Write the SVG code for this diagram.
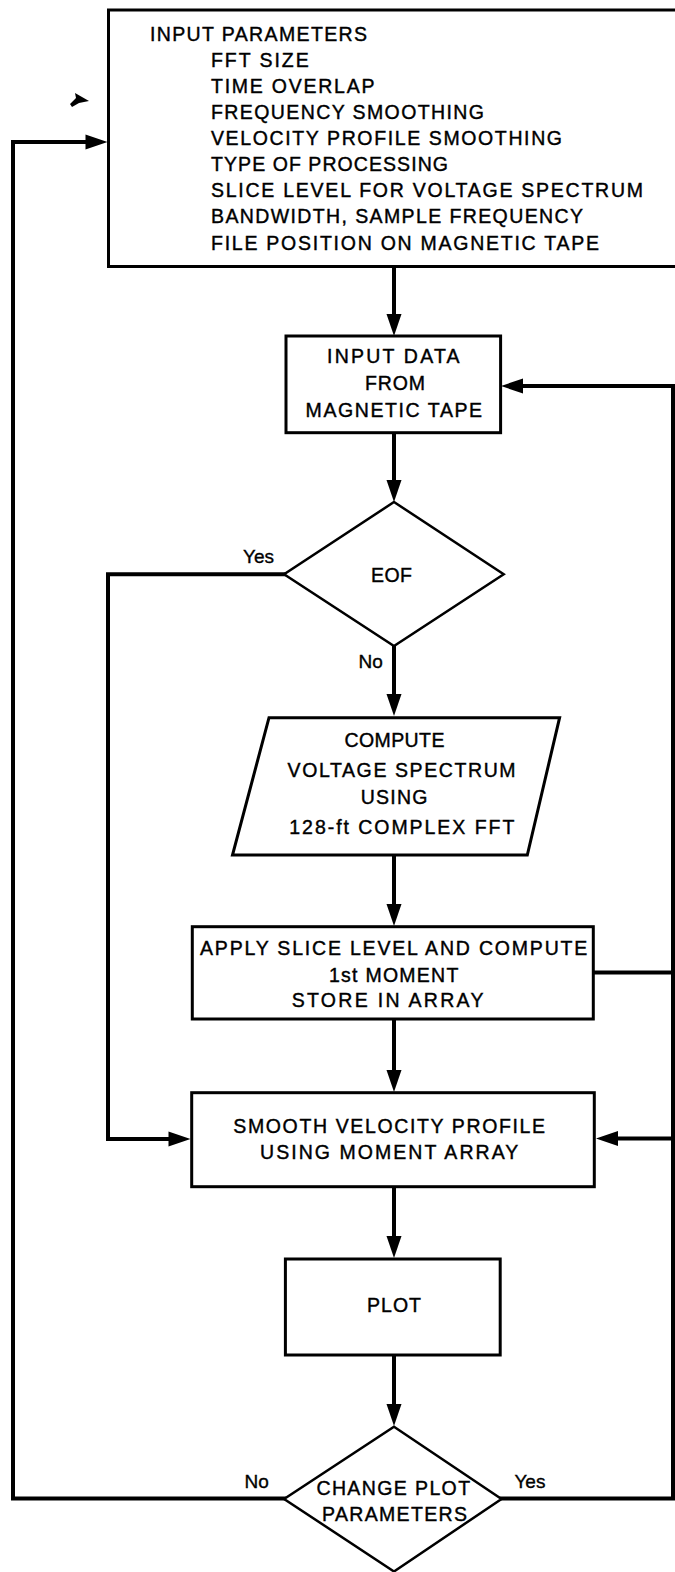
<svg xmlns="http://www.w3.org/2000/svg" width="675" height="1572" viewBox="0 0 675 1572">
<style>
  .box { fill: #fff; stroke: #000; stroke-width: 3; }
  .dia { fill: #fff; stroke: #000; stroke-width: 2.5; stroke-linejoin: miter; }
  .con { fill: none; stroke: #000; stroke-width: 4; stroke-linejoin: miter; stroke-linecap: square; }
  .t { font-family: "Liberation Sans", Arial, Helvetica, sans-serif; font-size: 19.5px; fill: #000; stroke: #000; stroke-width: 0.4px; }
  .l { font-family: "Liberation Sans", Arial, Helvetica, sans-serif; font-size: 19px; fill: #000; stroke: #000; stroke-width: 0.35px; }
</style>
<defs>
  <marker id="ah" markerUnits="userSpaceOnUse" markerWidth="22" markerHeight="15" refX="12" refY="7.5" orient="auto" overflow="visible">
    <path d="M0,0 L22,7.5 L0,15 Z" fill="#000"/>
  </marker>
</defs>
<rect width="675" height="1572" fill="#fff"/>

<g id="connectors">
  <path class="con" d="M394,268 V326" marker-end="url(#ah)"/>
  <path class="con" d="M394,433 V492" marker-end="url(#ah)"/>
  <path class="con" d="M394,646 V706" marker-end="url(#ah)"/>
  <path class="con" d="M394,855 V916" marker-end="url(#ah)"/>
  <path class="con" d="M394,1019 V1082" marker-end="url(#ah)"/>
  <path class="con" d="M394,1187 V1248" marker-end="url(#ah)"/>
  <path class="con" d="M394,1355 V1416" marker-end="url(#ah)"/>
  <path class="con" d="M284,574.3 H108 V1139 H180.5" marker-end="url(#ah)"/>
  <path class="con" d="M284,1498.5 H13 V142 H97.5" marker-end="url(#ah)"/>
  <path class="con" d="M501.5,1498.5 H673 V386 H511" marker-end="url(#ah)"/>
  <path class="con" d="M593,972.5 H673"/>
  <path class="con" d="M673,1138.5 H606" marker-end="url(#ah)"/>
  <path d="M70,104 L76,98 L75,93 L89,101 L79,103 L72,107 Z" fill="#000"/>
</g>

<g id="input-parameters">
  <rect class="box" x="108.5" y="10" width="575" height="256.5"/>
  <text class="t" x="150" y="40.7" textLength="217" lengthAdjust="spacing">INPUT PARAMETERS</text>
  <text class="t" x="211" y="66.7" textLength="97.7" lengthAdjust="spacing">FFT SIZE</text>
  <text class="t" x="211" y="92.7" textLength="163.5" lengthAdjust="spacing">TIME OVERLAP</text>
  <text class="t" x="211" y="119" textLength="273" lengthAdjust="spacing">FREQUENCY SMOOTHING</text>
  <text class="t" x="211" y="145" textLength="351" lengthAdjust="spacing">VELOCITY PROFILE SMOOTHING</text>
  <text class="t" x="211" y="170.7" textLength="237" lengthAdjust="spacing">TYPE OF PROCESSING</text>
  <text class="t" x="211" y="197" textLength="432" lengthAdjust="spacing">SLICE LEVEL FOR VOLTAGE SPECTRUM</text>
  <text class="t" x="211" y="223" textLength="372" lengthAdjust="spacing">BANDWIDTH, SAMPLE FREQUENCY</text>
  <text class="t" x="211" y="249.7" textLength="388" lengthAdjust="spacing">FILE POSITION ON MAGNETIC TAPE</text>
</g>

<g id="input-data">
  <rect class="box" x="286" y="336" width="214.6" height="96.7"/>
  <text class="t" x="327" y="362.7" textLength="132.6" lengthAdjust="spacing">INPUT DATA</text>
  <text class="t" x="365" y="390" textLength="60" lengthAdjust="spacing">FROM</text>
  <text class="t" x="305.6" y="417.3" textLength="176.5" lengthAdjust="spacing">MAGNETIC TAPE</text>
</g>

<g id="eof">
  <polygon class="dia" points="394,502 503.7,574.3 394,646 284.1,574.3"/>
  <text class="t" x="371" y="581.7" textLength="41" lengthAdjust="spacing">EOF</text>
  <text class="l" x="243" y="563.3">Yes</text>
  <text class="l" x="358.6" y="668.3">No</text>
</g>

<g id="compute">
  <polygon class="box" points="269,717.7 559.6,717.7 527.3,855 232.5,855"/>
  <text class="t" x="344.4" y="746.7" textLength="100" lengthAdjust="spacing">COMPUTE</text>
  <text class="t" x="287.6" y="776.7" textLength="228" lengthAdjust="spacing">VOLTAGE SPECTRUM</text>
  <text class="t" x="360.7" y="804" textLength="66.7" lengthAdjust="spacing">USING</text>
  <text class="t" x="289.3" y="834" textLength="225" lengthAdjust="spacing">128-ft COMPLEX FFT</text>
</g>

<g id="apply">
  <rect class="box" x="192.3" y="926.7" width="401" height="92.3"/>
  <text class="t" x="200" y="955" textLength="387.3" lengthAdjust="spacing">APPLY SLICE LEVEL AND COMPUTE</text>
  <text class="t" x="329" y="981.7" textLength="129.3" lengthAdjust="spacing">1st MOMENT</text>
  <text class="t" x="291.7" y="1007.3" textLength="191.7" lengthAdjust="spacing">STORE IN ARRAY</text>
</g>

<g id="smooth">
  <rect class="box" x="191.7" y="1092.7" width="402.6" height="94"/>
  <text class="t" x="233.3" y="1132.7" textLength="311.7" lengthAdjust="spacing">SMOOTH VELOCITY PROFILE</text>
  <text class="t" x="260" y="1159.3" textLength="258.3" lengthAdjust="spacing">USING MOMENT ARRAY</text>
</g>

<g id="plot">
  <rect class="box" x="285.4" y="1259" width="214.8" height="96"/>
  <text class="t" x="367" y="1311.7" textLength="54" lengthAdjust="spacing">PLOT</text>
</g>

<g id="change-plot">
  <polygon class="dia" points="394,1426.7 501.5,1499 394,1571.5 284.1,1499"/>
  <text class="t" x="316.4" y="1495" textLength="153.7" lengthAdjust="spacing">CHANGE PLOT</text>
  <text class="t" x="322" y="1520.7" textLength="145" lengthAdjust="spacing">PARAMETERS</text>
  <text class="l" x="244.5" y="1488.3">No</text>
  <text class="l" x="514.4" y="1488.3">Yes</text>
</g>
</svg>
